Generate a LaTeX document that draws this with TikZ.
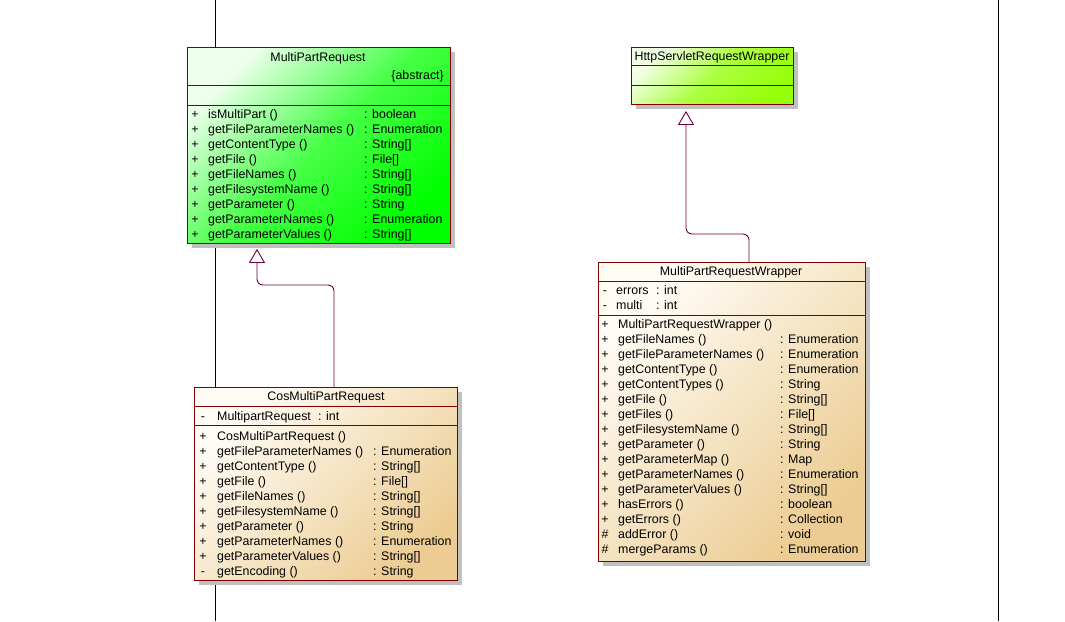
\documentclass[tikz,border=0pt]{standalone}
\usepackage{fontspec}
\setmainfont{Liberation Sans}
\usepackage{xcolor}
\definecolor{UmlBorder}{RGB}{128,0,0}
\definecolor{UmlLink}{RGB}{112,0,64}
\definecolor{UmlShadow}{RGB}{192,192,192}
\definecolor{GreenLight}{RGB}{238,255,238}
\definecolor{GreenDark}{RGB}{0,255,0}
\definecolor{LimeLight}{RGB}{242,255,230}
\definecolor{LimeDark}{RGB}{150,255,10}
\definecolor{CreamLight}{RGB}{255,252,246}
\definecolor{CreamDark}{RGB}{236,204,146}
\usetikzlibrary{positioning}
\usetikzlibrary{calc}
\usetikzlibrary{arrows.meta}
\usetikzlibrary{shadows}

\begin{document}
\begin{tikzpicture}[
      , x=1pt, y=-1pt
      , every node/.style={font=\fontsize{12.4}{14}\selectfont, inner sep=0pt}
      , class/.style={rectangle, draw=UmlBorder, line width=0.9pt, anchor=north west,
          drop shadow={shadow xshift=5pt, shadow yshift=-5pt, fill=UmlShadow, opacity=1}}
      , c-green/.style={top color=GreenLight, bottom color=GreenDark, middle color=GreenDark!70!GreenLight, shading angle=45}
      , c-lime/.style={top color=LimeLight, bottom color=LimeDark, middle color=LimeDark!75!LimeLight, shading angle=45}
      , c-cream/.style={top color=CreamLight, bottom color=CreamDark, shading angle=45}
      , sep/.style={draw=UmlBorder, line width=0.9pt}
      , vis/.style={anchor=base}
      , member/.style={anchor=base west}
      , lane/.style={draw=black, line width=0.8pt}
      , inherit/.style={draw=UmlLink, line width=0.9pt, rounded corners=6pt,
          -{Triangle[open, length=14pt, width=16pt]}}
      ]

      \path[use as bounding box, fill=white] (0,0) rectangle (1065,621);

      \draw[lane] (215,0) -- (215,621);
      \draw[lane] (998,0) -- (998,621);

      % MultiPartRequest
      \node[class, c-green, minimum width=263pt, minimum height=196pt] (mpr) at (187,47) {};
      \draw[sep] (mpr.west |- 0,85) -- (mpr.east |- 0,85);
      \draw[sep] (mpr.west |- 0,105) -- (mpr.east |- 0,105);
      \node[anchor=base] (mpr-name) at (318,61.5) {MultiPartRequest};
      \node[anchor=base east] (mpr-abstract) at (444,79) {\{abstract\}};
      \foreach \vis/\op/\type [count=\i from 0] in {
          +/isMultiPart ()/: boolean, +/getFileParameterNames ()/: Enumeration,
          +/getContentType ()/: String[], +/getFile ()/: File[],
          +/getFileNames ()/: String[], +/getFilesystemName ()/: String[],
          +/getParameter ()/: String, +/getParameterNames ()/: Enumeration,
          +/getParameterValues ()/: String[]} {
        \node[vis] (mpr-vis-\i) at (195,118+15*\i) {\vis};
        \node[member] (mpr-op-\i) at (208,118+15*\i) {\op};
        \node[member] (mpr-type-\i) at (364,118+15*\i) {\type};
      }

      % HttpServletRequestWrapper
      \node[class, c-lime, minimum width=162pt, minimum height=57pt] (hsrw) at (631,47) {};
      \draw[sep] (hsrw.west |- 0,65) -- (hsrw.east |- 0,65);
      \draw[sep] (hsrw.west |- 0,85) -- (hsrw.east |- 0,85);
      \node[anchor=base] (hsrw-name) at (712,60.5) {HttpServletRequestWrapper};

      % CosMultiPartRequest
      \node[class, c-cream, minimum width=263pt, minimum height=193pt] (cmpr) at (194,387) {};
      \draw[sep] (cmpr.west |- 0,406) -- (cmpr.east |- 0,406);
      \draw[sep] (cmpr.west |- 0,425) -- (cmpr.east |- 0,425);
      \node[anchor=base] (cmpr-name) at (326,400.5) {CosMultiPartRequest};
      \node[vis] (cmpr-attr-vis) at (203,420) {-};
      \node[member] (cmpr-attr) at (217,420) {MultipartRequest};
      \node[member] (cmpr-attr-type) at (318,420) {: int};
      \foreach \vis/\op/\type [count=\i from 0] in {
          +/CosMultiPartRequest ()/{}, +/getFileParameterNames ()/: Enumeration,
          +/getContentType ()/: String[], +/getFile ()/: File[],
          +/getFileNames ()/: String[], +/getFilesystemName ()/: String[],
          +/getParameter ()/: String, +/getParameterNames ()/: Enumeration,
          +/getParameterValues ()/: String[], -/getEncoding ()/: String} {
        \node[vis] (cmpr-vis-\i) at (203,440.5+15*\i) {\vis};
        \node[member] (cmpr-op-\i) at (217,440.5+15*\i) {\op};
        \node[member] (cmpr-type-\i) at (373,440.5+15*\i) {\type};
      }

      % MultiPartRequestWrapper
      \node[class, c-cream, minimum width=267pt, minimum height=299pt] (mprw) at (598,262) {};
      \draw[sep] (mprw.west |- 0,281) -- (mprw.east |- 0,281);
      \draw[sep] (mprw.west |- 0,315) -- (mprw.east |- 0,315);
      \node[anchor=base] (mprw-name) at (731,275) {MultiPartRequestWrapper};
      \foreach \vis/\attr [count=\i from 0] in {-/errors, -/multi} {
        \node[vis] (mprw-attr-vis-\i) at (605,294.5+15*\i) {\vis};
        \node[member] (mprw-attr-\i) at (616,294.5+15*\i) {\attr};
        \node[member] (mprw-attr-type-\i) at (656,294.5+15*\i) {: int};
      }
      \foreach \vis/\op/\type [count=\i from 0] in {
          +/MultiPartRequestWrapper ()/{}, +/getFileNames ()/: Enumeration,
          +/getFileParameterNames ()/: Enumeration, +/getContentType ()/: Enumeration,
          +/getContentTypes ()/: String, +/getFile ()/: String[],
          +/getFiles ()/: File[], +/getFilesystemName ()/: String[],
          +/getParameter ()/: String, +/getParameterMap ()/: Map,
          +/getParameterNames ()/: Enumeration, +/getParameterValues ()/: String[],
          +/hasErrors ()/: boolean, +/getErrors ()/: Collection,
          \#/addError ()/: void, \#/mergeParams ()/: Enumeration} {
        \node[vis] (mprw-vis-\i) at (605,328.5+15*\i) {\vis};
        \node[member] (mprw-op-\i) at (618,328.5+15*\i) {\op};
        \node[member] (mprw-type-\i) at (780,328.5+15*\i) {\type};
      }

      % generalizations
      \coordinate (mpr-in) at ($ (mpr.south -| 257,0) + (0,5) $);
      \coordinate (hsrw-in) at ($ (hsrw.south -| 686,0) + (0,6) $);
      \draw[inherit] (cmpr.north -| 334,0) |- (257,285) -- (mpr-in);
      \draw[inherit] (mprw.north -| 749,0) |- (686,234) -- (hsrw-in);
    \end{tikzpicture}
\end{document}
